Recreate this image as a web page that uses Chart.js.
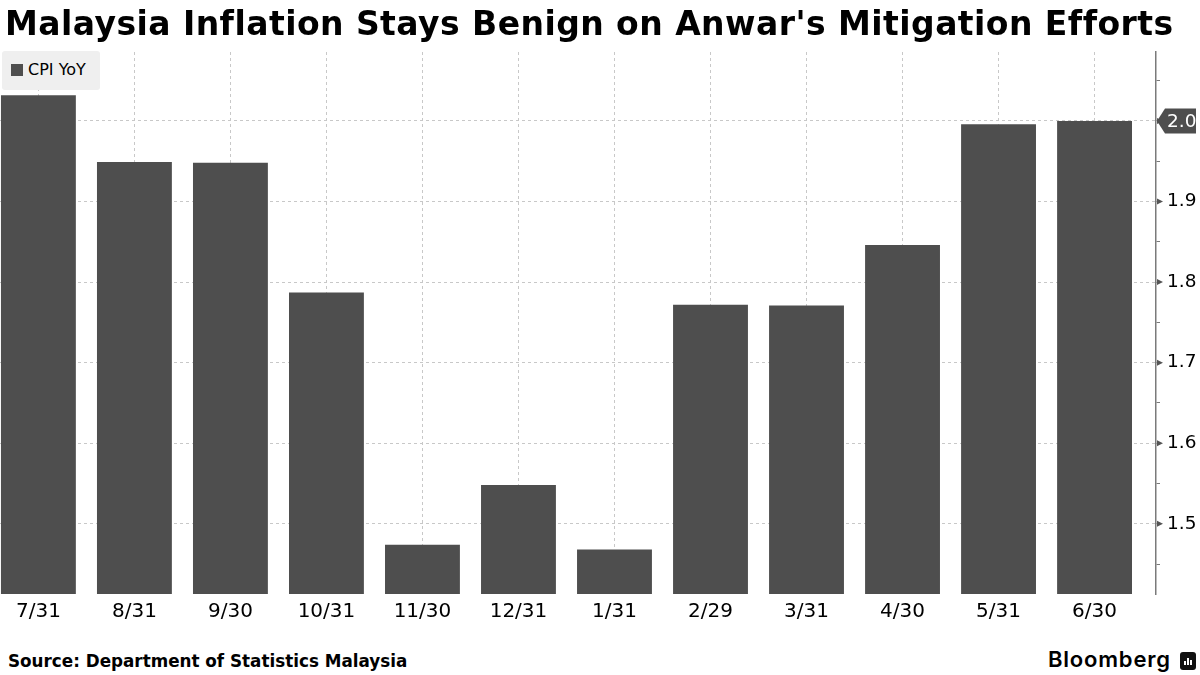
<!DOCTYPE html>
<html lang="en">
<head>
    <meta charset="UTF-8">
    <title>Malaysia Inflation</title>
    <script src="https://cdn.jsdelivr.net/npm/chart.js"></script>
    <style>
        html, body { margin: 0; padding: 0; background: #fff; }
        body { width: 1200px; height: 675px; position: relative; overflow: hidden; font-family: 'DejaVu Sans', sans-serif; }
        .title { position: absolute; left: 5px; top: 4px; font-size: 33px; font-weight: bold; color: #000; white-space: nowrap; letter-spacing: 0.45px; z-index: 2; }
        .chart-wrap { position: absolute; left: 0; top: 0; width: 1200px; height: 640px; }
        .legend { position: absolute; left: 2px; top: 51px; width: 98px; height: 39px; background: #efefef; border-radius: 3px; z-index: 2; font-size: 16px; color: #000; }
        .legend .swatch { position: absolute; left: 9px; top: 13px; width: 12px; height: 12px; background: #4e4e4e; }
        .legend .label { position: absolute; left: 26px; top: 9px; }
        .source { position: absolute; left: 8px; top: 651px; font-size: 16.8px; font-weight: bold; color: #000; }
        .brand { position: absolute; left: 1048px; top: 646px; font-family: 'Inter', sans-serif; font-size: 22px; font-weight: 600; color: #000; letter-spacing: 0.8px; }
        .brand-icon { position: absolute; left: 1180px; top: 652px; width: 16px; height: 18px; background: #111; border-radius: 3px; }
        .brand-icon i { position: absolute; bottom: 5px; width: 2px; background: #fff; }
    </style>
</head>
<body>
    <div class="title">Malaysia Inflation Stays Benign on Anwar's Mitigation Efforts</div>
    <div class="chart-wrap"><canvas id="cpiChart"></canvas></div>
    <div class="legend"><span class="swatch"></span><span class="label">CPI YoY</span></div>
    <div class="source">Source: Department of Statistics Malaysia</div>
    <div class="brand">Bloomberg</div>
    <div class="brand-icon"><i style="left:4px;height:4px"></i><i style="left:7px;height:7px"></i><i style="left:10px;height:5px"></i></div>

    <script>
    // month-end dates, Jul 2023 - Jun 2024
    const categories = ['7/31', '8/31', '9/30', '10/31', '11/30', '12/31', '1/31', '2/29', '3/31', '4/30', '5/31', '6/30'];
    const cpiYoY = [2.032, 1.949, 1.948, 1.787, 1.474, 1.548, 1.468, 1.772, 1.771, 1.846, 1.996, 2.0];
    const majorTicks = [1.5, 1.6, 1.7, 1.8, 1.9, 2.0];
    const minorTicks = [1.45, 1.55, 1.65, 1.75, 1.85, 1.95, 2.05];

    const barColor = '#4e4e4e';
    const gridColor = '#c8c8c8';
    const axisColor = '#7a7a7a';
    const isMajor = v => majorTicks.some(m => Math.abs(m - v) < 1e-6);

    // small arrow heads on major ticks + the last value tag
    const axisMarks = {
        id: 'axisMarks',
        afterDraw(chart) {
            const { ctx, chartArea, scales } = chart;
            const x0 = chartArea.right;
            ctx.save();
            ctx.fillStyle = '#555';
            majorTicks.forEach(v => {
                const y = scales.y.getPixelForValue(v);
                ctx.beginPath();
                ctx.moveTo(x0 + 1, y - 3);
                ctx.lineTo(x0 + 7, y);
                ctx.lineTo(x0 + 1, y + 3);
                ctx.closePath();
                ctx.fill();
            });
            const last = cpiYoY[cpiYoY.length - 1];
            const y = Math.round(scales.y.getPixelForValue(last));
            ctx.fillStyle = barColor;
            ctx.beginPath();
            ctx.moveTo(x0 + 1, y);
            ctx.lineTo(x0 + 9, y - 12.5);
            ctx.lineTo(x0 + 40, y - 12.5);
            ctx.lineTo(x0 + 40, y + 12.5);
            ctx.lineTo(x0 + 9, y + 12.5);
            ctx.closePath();
            ctx.fill();
            ctx.fillStyle = '#fff';
            ctx.font = "18.5px 'DejaVu Sans'";
            ctx.textBaseline = 'middle';
            ctx.fillText(last.toFixed(1), x0 + 11, y + 1);
            ctx.restore();
        }
    };

    const ctx = document.getElementById('cpiChart').getContext('2d');
    new Chart(ctx, {
        type: 'bar',
        data: {
            datasets: [{
                label: 'CPI YoY',
                data: cpiYoY.map((v, i) => ({ x: i, y: v })),
                backgroundColor: barColor,
                borderWidth: 0,
                barPercentage: 0.78,
                categoryPercentage: 1.0
            }]
        },
        options: {
            responsive: true,
            maintainAspectRatio: false,
            animation: false,
            layout: { padding: { top: 52, left: 0, right: 0, bottom: 0 } },
            plugins: {
                legend: { display: false },
                tooltip: { enabled: false }
            },
            scales: {
                x: {
                    type: 'linear',
                    offset: false,
                    min: -0.4,
                    max: 11.64,
                    afterBuildTicks: s => { s.ticks = categories.map((_, i) => ({ value: i })); },
                    afterFit: s => { s.height = 46; },
                    grid: { color: gridColor, drawTicks: false, offset: false },
                    border: { display: false, dash: [3, 3] },
                    ticks: {
                        autoSkip: false,
                        maxRotation: 0,
                        padding: 6,
                        color: '#000',
                        font: { family: "'DejaVu Sans'", size: 20 },
                        callback: v => categories[v]
                    }
                },
                y: {
                    position: 'right',
                    min: 1.4128,
                    max: 2.0856,
                    afterBuildTicks: s => { s.ticks = majorTicks.concat(minorTicks).sort().map(v => ({ value: v })); },
                    afterFit: s => { s.width = 44; },
                    grid: {
                        color: c => isMajor(c.tick.value) ? gridColor : 'rgba(0,0,0,0)',
                        tickColor: axisColor,
                        tickLength: 4,
                        tickWidth: 1
                    },
                    border: { display: true, color: axisColor, width: 1.5, dash: [3, 3] },
                    ticks: {
                        autoSkip: false,
                        padding: 7,
                        color: '#000',
                        font: { family: "'DejaVu Sans'", size: 18.5 },
                        callback: v => isMajor(v) ? v.toFixed(1) : ''
                    }
                }
            }
        },
        plugins: [axisMarks]
    });
    </script>
</body>
</html>
